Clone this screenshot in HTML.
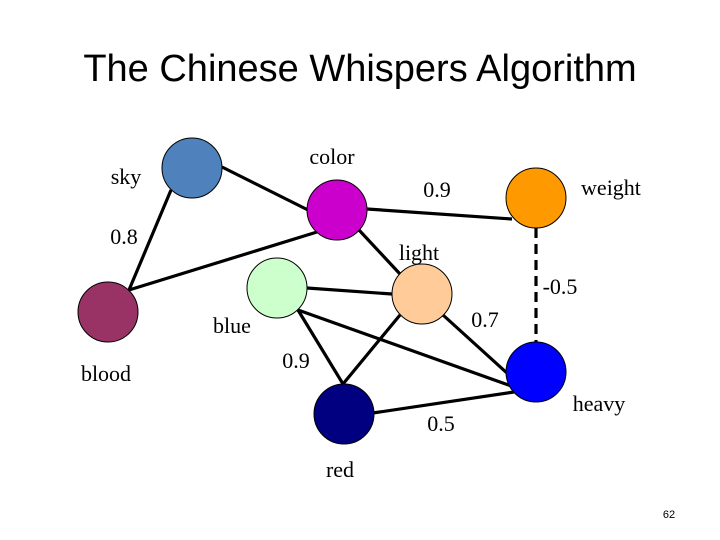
<!DOCTYPE html>
<html><head><meta charset="utf-8"><style>
html,body{margin:0;padding:0;background:#fff;}
svg{display:block;}
</style></head><body>
<svg width="720" height="540" viewBox="0 0 720 540" xmlns="http://www.w3.org/2000/svg">
<rect width="720" height="540" fill="#fff"/>
<text x="360" y="81" text-anchor="middle" font-family="Liberation Sans, sans-serif" font-size="38" fill="#000">The Chinese Whispers Algorithm</text>
<g stroke="#000" stroke-width="3.2" fill="none">
<line x1="222" y1="167" x2="308" y2="210"/>
<line x1="171" y1="190" x2="129" y2="290"/>
<line x1="129" y1="290" x2="317" y2="232"/>
<line x1="367" y1="209" x2="512" y2="219"/>
<line x1="359" y1="230" x2="400" y2="274"/>
<line x1="307" y1="288" x2="392" y2="294"/>
<line x1="298" y1="310" x2="343" y2="384"/>
<line x1="298" y1="310" x2="514" y2="387"/>
<line x1="400" y1="315" x2="343" y2="384"/>
<line x1="443" y1="315" x2="508" y2="374"/>
<line x1="373" y1="413" x2="514" y2="392"/>
<line x1="536" y1="228" x2="536" y2="342" stroke-dasharray="10,6"/>
</g>
<g stroke="#000" stroke-width="1">
<circle cx="192" cy="168" r="30" fill="#4f81bd"/>
<circle cx="337" cy="210" r="30" fill="#cc00cc"/>
<circle cx="536" cy="198" r="30" fill="#ff9900"/>
<circle cx="108" cy="312" r="30" fill="#993366"/>
<circle cx="277" cy="288" r="30" fill="#ccffcc"/>
<circle cx="422" cy="294" r="30" fill="#ffcc99"/>
<circle cx="536" cy="372" r="30" fill="#0000ff"/>
<circle cx="344" cy="414" r="30" fill="#000080"/>
</g>
<g font-family="Liberation Serif, serif" font-size="22" fill="#000" text-anchor="middle">
<text x="126" y="184">sky</text>
<text x="332" y="164">color</text>
<text x="611" y="195">weight</text>
<text x="437" y="197">0.9</text>
<text x="124" y="244">0.8</text>
<text x="419" y="260">light</text>
<text x="560" y="294">-0.5</text>
<text x="485" y="327">0.7</text>
<text x="232" y="333">blue</text>
<text x="106" y="381">blood</text>
<text x="296" y="368">0.9</text>
<text x="599" y="411">heavy</text>
<text x="441" y="431">0.5</text>
<text x="340" y="477">red</text>
</g>
<text x="669" y="518" text-anchor="middle" font-family="Liberation Sans, sans-serif" font-size="11" fill="#000">62</text>
</svg>
</body></html>
